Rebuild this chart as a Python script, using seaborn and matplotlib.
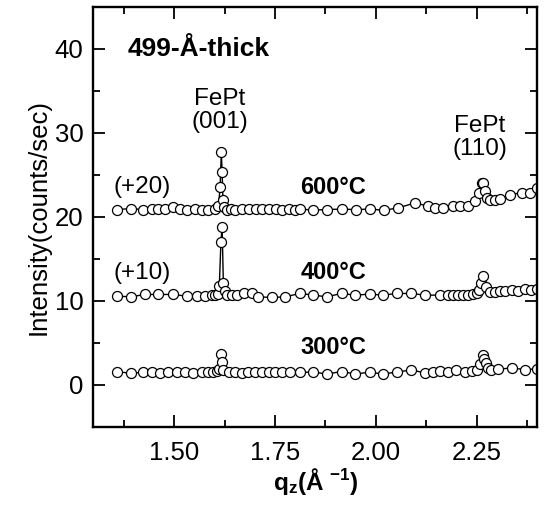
import numpy as np
import pandas as pd
import seaborn as sns
import matplotlib.pyplot as plt
from matplotlib.ticker import MultipleLocator

# q_z positions (1/Å) and intensities (counts/sec)
q_300 = [1.358, 1.393, 1.424, 1.445, 1.466, 1.486, 1.507, 1.527, 1.548, 1.569,
         1.585, 1.597, 1.606, 1.612, 1.616, 1.618, 1.622, 1.635, 1.651, 1.668,
         1.684, 1.701, 1.717, 1.734, 1.750, 1.767, 1.787, 1.812, 1.845, 1.878,
         1.915, 1.948, 1.985, 2.018, 2.051, 2.088, 2.121, 2.142, 2.158, 2.179,
         2.199, 2.220, 2.237, 2.249, 2.257, 2.264, 2.267, 2.272, 2.278, 2.286,
         2.303, 2.336, 2.369, 2.398]
i_300 = [1.56, 1.36, 1.48, 1.52, 1.44, 1.50, 1.46, 1.52, 1.44, 1.50,
         1.46, 1.52, 1.60, 1.90, 3.70, 2.70, 1.80, 1.52, 1.48, 1.44,
         1.50, 1.56, 1.50, 1.46, 1.52, 1.48, 1.50, 1.48, 1.50, 1.28,
         1.56, 1.28, 1.48, 1.28, 1.50, 1.76, 1.40, 1.48, 1.60, 1.48,
         1.76, 1.50, 1.62, 1.80, 2.50, 3.50, 3.10, 2.60, 2.00, 1.76,
         1.84, 2.00, 1.80, 1.88]

q_400 = [1.358, 1.393, 1.428, 1.461, 1.498, 1.531, 1.556, 1.577, 1.593, 1.602,
         1.608, 1.612, 1.616, 1.619, 1.622, 1.626, 1.630, 1.643, 1.655, 1.672,
         1.692, 1.709, 1.742, 1.775, 1.812, 1.845, 1.878, 1.915, 1.948, 1.985,
         2.018, 2.051, 2.088, 2.121, 2.158, 2.179, 2.191, 2.204, 2.216, 2.228,
         2.241, 2.249, 2.256, 2.261, 2.266, 2.272, 2.282, 2.294, 2.307, 2.319,
         2.336, 2.352, 2.369, 2.385, 2.398]
i_400 = [0.54, 0.46, 0.74, 0.74, 0.74, 0.54, 0.54, 0.54, 0.62, 0.66,
         0.80, 1.70, 7.00, 8.80, 2.10, 1.20, 0.70, 0.62, 0.66, 0.94,
         0.86, 0.46, 0.38, 0.46, 0.86, 0.66, 0.46, 0.86, 0.66, 0.78,
         0.66, 0.86, 0.86, 0.66, 0.66, 0.62, 0.66, 0.62, 0.66, 0.70,
         0.74, 0.90, 1.30, 2.10, 2.90, 1.60, 1.06, 1.00, 1.14, 1.10,
         1.26, 1.20, 1.34, 1.30, 1.34]

q_600 = [1.358, 1.393, 1.424, 1.445, 1.461, 1.478, 1.497, 1.515, 1.533, 1.552,
         1.569, 1.585, 1.601, 1.610, 1.614, 1.617, 1.619, 1.621, 1.624, 1.630,
         1.640, 1.651, 1.668, 1.685, 1.702, 1.718, 1.735, 1.752, 1.768, 1.785,
         1.800, 1.812, 1.845, 1.878, 1.915, 1.950, 1.985, 2.020, 2.055, 2.097,
         2.129, 2.146, 2.167, 2.191, 2.208, 2.228, 2.245, 2.255, 2.262, 2.266,
         2.270, 2.276, 2.282, 2.294, 2.307, 2.332, 2.361, 2.381, 2.399]
i_600 = [0.84, 0.96, 0.84, 0.90, 0.96, 0.90, 1.16, 0.90, 0.84, 0.90,
         0.84, 0.84, 0.96, 1.30, 3.50, 7.70, 5.30, 2.00, 1.20, 0.80,
         0.90, 0.84, 0.90, 0.96, 0.90, 0.96, 0.90, 0.90, 0.84, 0.90,
         0.84, 0.90, 0.78, 0.84, 0.90, 0.84, 0.90, 0.76, 1.04, 1.64,
         1.24, 1.04, 1.04, 1.32, 1.24, 1.32, 1.84, 2.84, 4.04, 4.00,
         3.00, 2.20, 2.04, 2.00, 2.10, 2.63, 2.84, 2.84, 3.40]

series = ["300", "400", "600"]
offsets = [0, 10, 20]
q_data = [q_300, q_400, q_600]
i_data = [i_300, i_400, i_600]

sns.set_style("ticks", {'axes.edgecolor': 'black', 'text.color': 'black',
                        'axes.labelcolor': 'black', 'xtick.color': 'black',
                        'ytick.color': 'black'})
plt.rcParams['font.family'] = ['Liberation Sans', 'DejaVu Sans']
plt.rcParams['mathtext.fontset'] = 'custom'
plt.rcParams['mathtext.rm'] = 'Liberation Sans:bold'
plt.rcParams['mathtext.it'] = 'Liberation Sans:bold'
plt.rcParams['mathtext.bf'] = 'Liberation Sans:bold'

fig = plt.figure(figsize=(5.49, 5.05), dpi=100)
ax = fig.add_axes([0.170, 0.155, 0.809, 0.832])

for name, off, q, inten in zip(series, offsets, q_data, i_data):
    df = pd.DataFrame({'q': q, 'I': np.array(inten) + off})
    sns.lineplot(data=df, x='q', y='I', ax=ax, color='black', lw=1.0,
                 estimator=None, sort=False, marker='o', markersize=7.2,
                 markerfacecolor='white', markeredgecolor='black',
                 markeredgewidth=0.9, clip_on=True)

ax.set_xlim(1.30, 2.40)
ax.set_ylim(-5, 45)
ax.xaxis.set_major_locator(MultipleLocator(0.25))
ax.xaxis.set_minor_locator(MultipleLocator(0.125))
ax.yaxis.set_major_locator(MultipleLocator(10))
ax.yaxis.set_minor_locator(MultipleLocator(5))
ax.xaxis.set_major_formatter(plt.FormatStrFormatter('%.2f'))

ax.tick_params(which='both', direction='in', top=True, right=True,
               width=1.3, labelsize=18.5, color='black', labelcolor='black')
ax.tick_params(which='major', length=8.5)
ax.tick_params(which='minor', length=4.8)
ax.tick_params(axis='x', pad=10)
ax.tick_params(axis='y', pad=7)
for sp in ax.spines.values():
    sp.set_linewidth(1.7)
    sp.set_color('black')

ax.set_xlabel('q$_z$(Å $^{-1}$)', fontsize=17.5, fontweight='bold', labelpad=1,
              color='black')
ax.set_ylabel('Intensity(counts/sec)', fontsize=18.5, labelpad=3, color='black')

ax.text(1.386, 40.0, '499-Å-thick', fontsize=19, fontweight='bold',
        ha='left', va='center', color='black')
ax.text(1.614, 32.6, 'FePt\n(001)', fontsize=17.5, ha='center', va='center',
        linespacing=1.05, color='black')
ax.text(2.257, 29.4, 'FePt\n(110)', fontsize=17.5, ha='center', va='center',
        linespacing=1.05, color='black')
ax.text(1.349, 23.5, '(+20)', fontsize=17.5, ha='left', va='center', color='black')
ax.text(1.349, 13.3, '(+10)', fontsize=17.5, ha='left', va='center', color='black')
ax.text(1.894, 23.5, '600°C', fontsize=17, fontweight='bold', ha='center',
        va='center', color='black')
ax.text(1.894, 13.3, '400°C', fontsize=17, fontweight='bold', ha='center',
        va='center', color='black')
ax.text(1.894, 4.4, '300°C', fontsize=17, fontweight='bold', ha='center',
        va='center', color='black')

plt.savefig('out.png', dpi=100)
plt.close()
